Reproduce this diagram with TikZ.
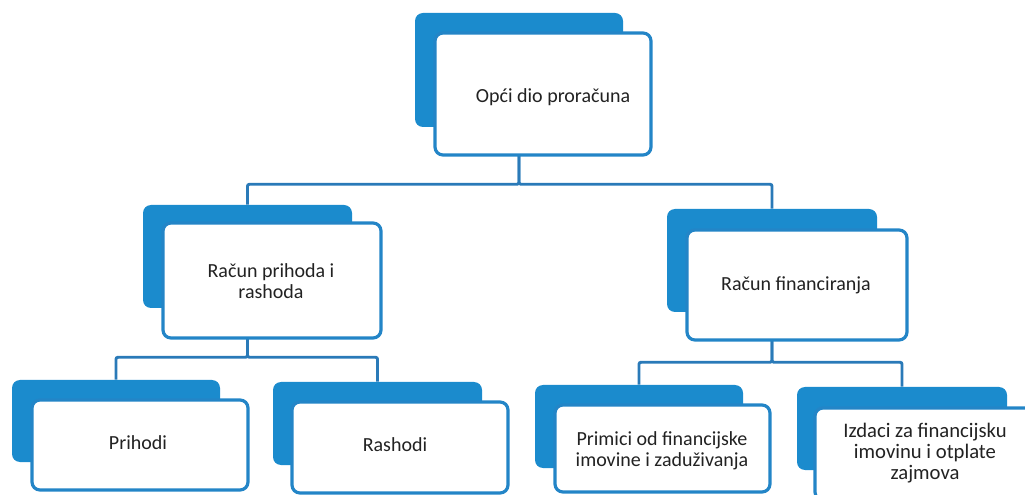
\documentclass[tikz,border=0pt]{standalone}
\usepackage{fontspec}
\setmainfont{Carlito}
\usetikzlibrary{fit}
\definecolor{backblue}{HTML}{1B8BCD}
\definecolor{edgeblue}{HTML}{2385C7}
\definecolor{linkblue}{HTML}{2A7AB8}
\definecolor{txtgray}{HTML}{222222}
\tikzset{
  backbox/.style={fill=backblue, draw=none, rounded corners=6pt, inner sep=0pt},
  frontbox/.style={fill=white, draw=edgeblue, line width=2.4pt, rounded corners=6pt, inner sep=0pt},
  boxtext/.style={text=txtgray, align=center, font=\fontsize{15}{15.5}\selectfont, inner sep=0pt},
  link/.style={draw=linkblue, line width=2.2pt, rounded corners=1.5pt}
}
\begin{document}
\begin{tikzpicture}[x=0.75pt,y=-0.75pt]
\useasboundingbox (0,0) rectangle (1025,495);
% back boxes
\node[backbox, fit={(415,13) (623,127)}] (b1) {};
\node[backbox, fit={(143,205) (352,308)}] (b2) {};
\node[backbox, fit={(667,209) (877,312)}] (b3) {};
\node[backbox, fit={(12,380) (220,462)}] (b4) {};
\node[backbox, fit={(273,382) (482,465)}] (b5) {};
\node[backbox, fit={(535,385) (743,468)}] (b6) {};
\node[backbox, fit={(797,387) (1007,470)}] (b7) {};
% connectors
\draw[link] (b1.south) -- ++(0,57) -| (b2.north);
\draw[link] (b1.south) -- ++(0,57) -| (b3.north);
\draw[link] (b2.south) -- ++(0,49) -| (b4.north);
\draw[link] (b2.south) -- ++(0,49) -| (b5.north);
\draw[link] (b3.south) -- ++(0,50) -| (b6.north);
\draw[link] (b3.south) -- ++(0,50) -| (b7.north);
% front boxes
\node[frontbox, fit={(435,33) (651,155)}] (f1) {};
\node[frontbox, fit={(163,223) (381,338)}] (f2) {};
\node[frontbox, fit={(687,230) (907,340)}] (f3) {};
\node[frontbox, fit={(32,400) (248,490)}] (f4) {};
\node[frontbox, fit={(292,402) (508,493)}] (f5) {};
\node[frontbox, fit={(555,405) (770,492)}] (f6) {};
\node[frontbox, fit={(815,408) (1035,500)}] (f7) {};
% texts
\node[boxtext] (t1) at (553,97) {Opći dio proračuna};
\node[boxtext] (t2) at (271,281) {Račun prihoda i\\rashoda};
\node[boxtext] (t3) at (796,285) {Račun financiranja};
\node[boxtext] (t4) at (138,443) {Prihodi};
\node[boxtext] (t5) at (395,445) {Rashodi};
\node[boxtext] (t6) at (662,451) {Primici od financijske\\imovine i zaduživanja};
\node[boxtext, font=\fontsize{15.5}{16}\selectfont] (t7) at (925,453) {Izdaci za financijsku\\imovinu i otplate\\zajmova};
\end{tikzpicture}
\end{document}
